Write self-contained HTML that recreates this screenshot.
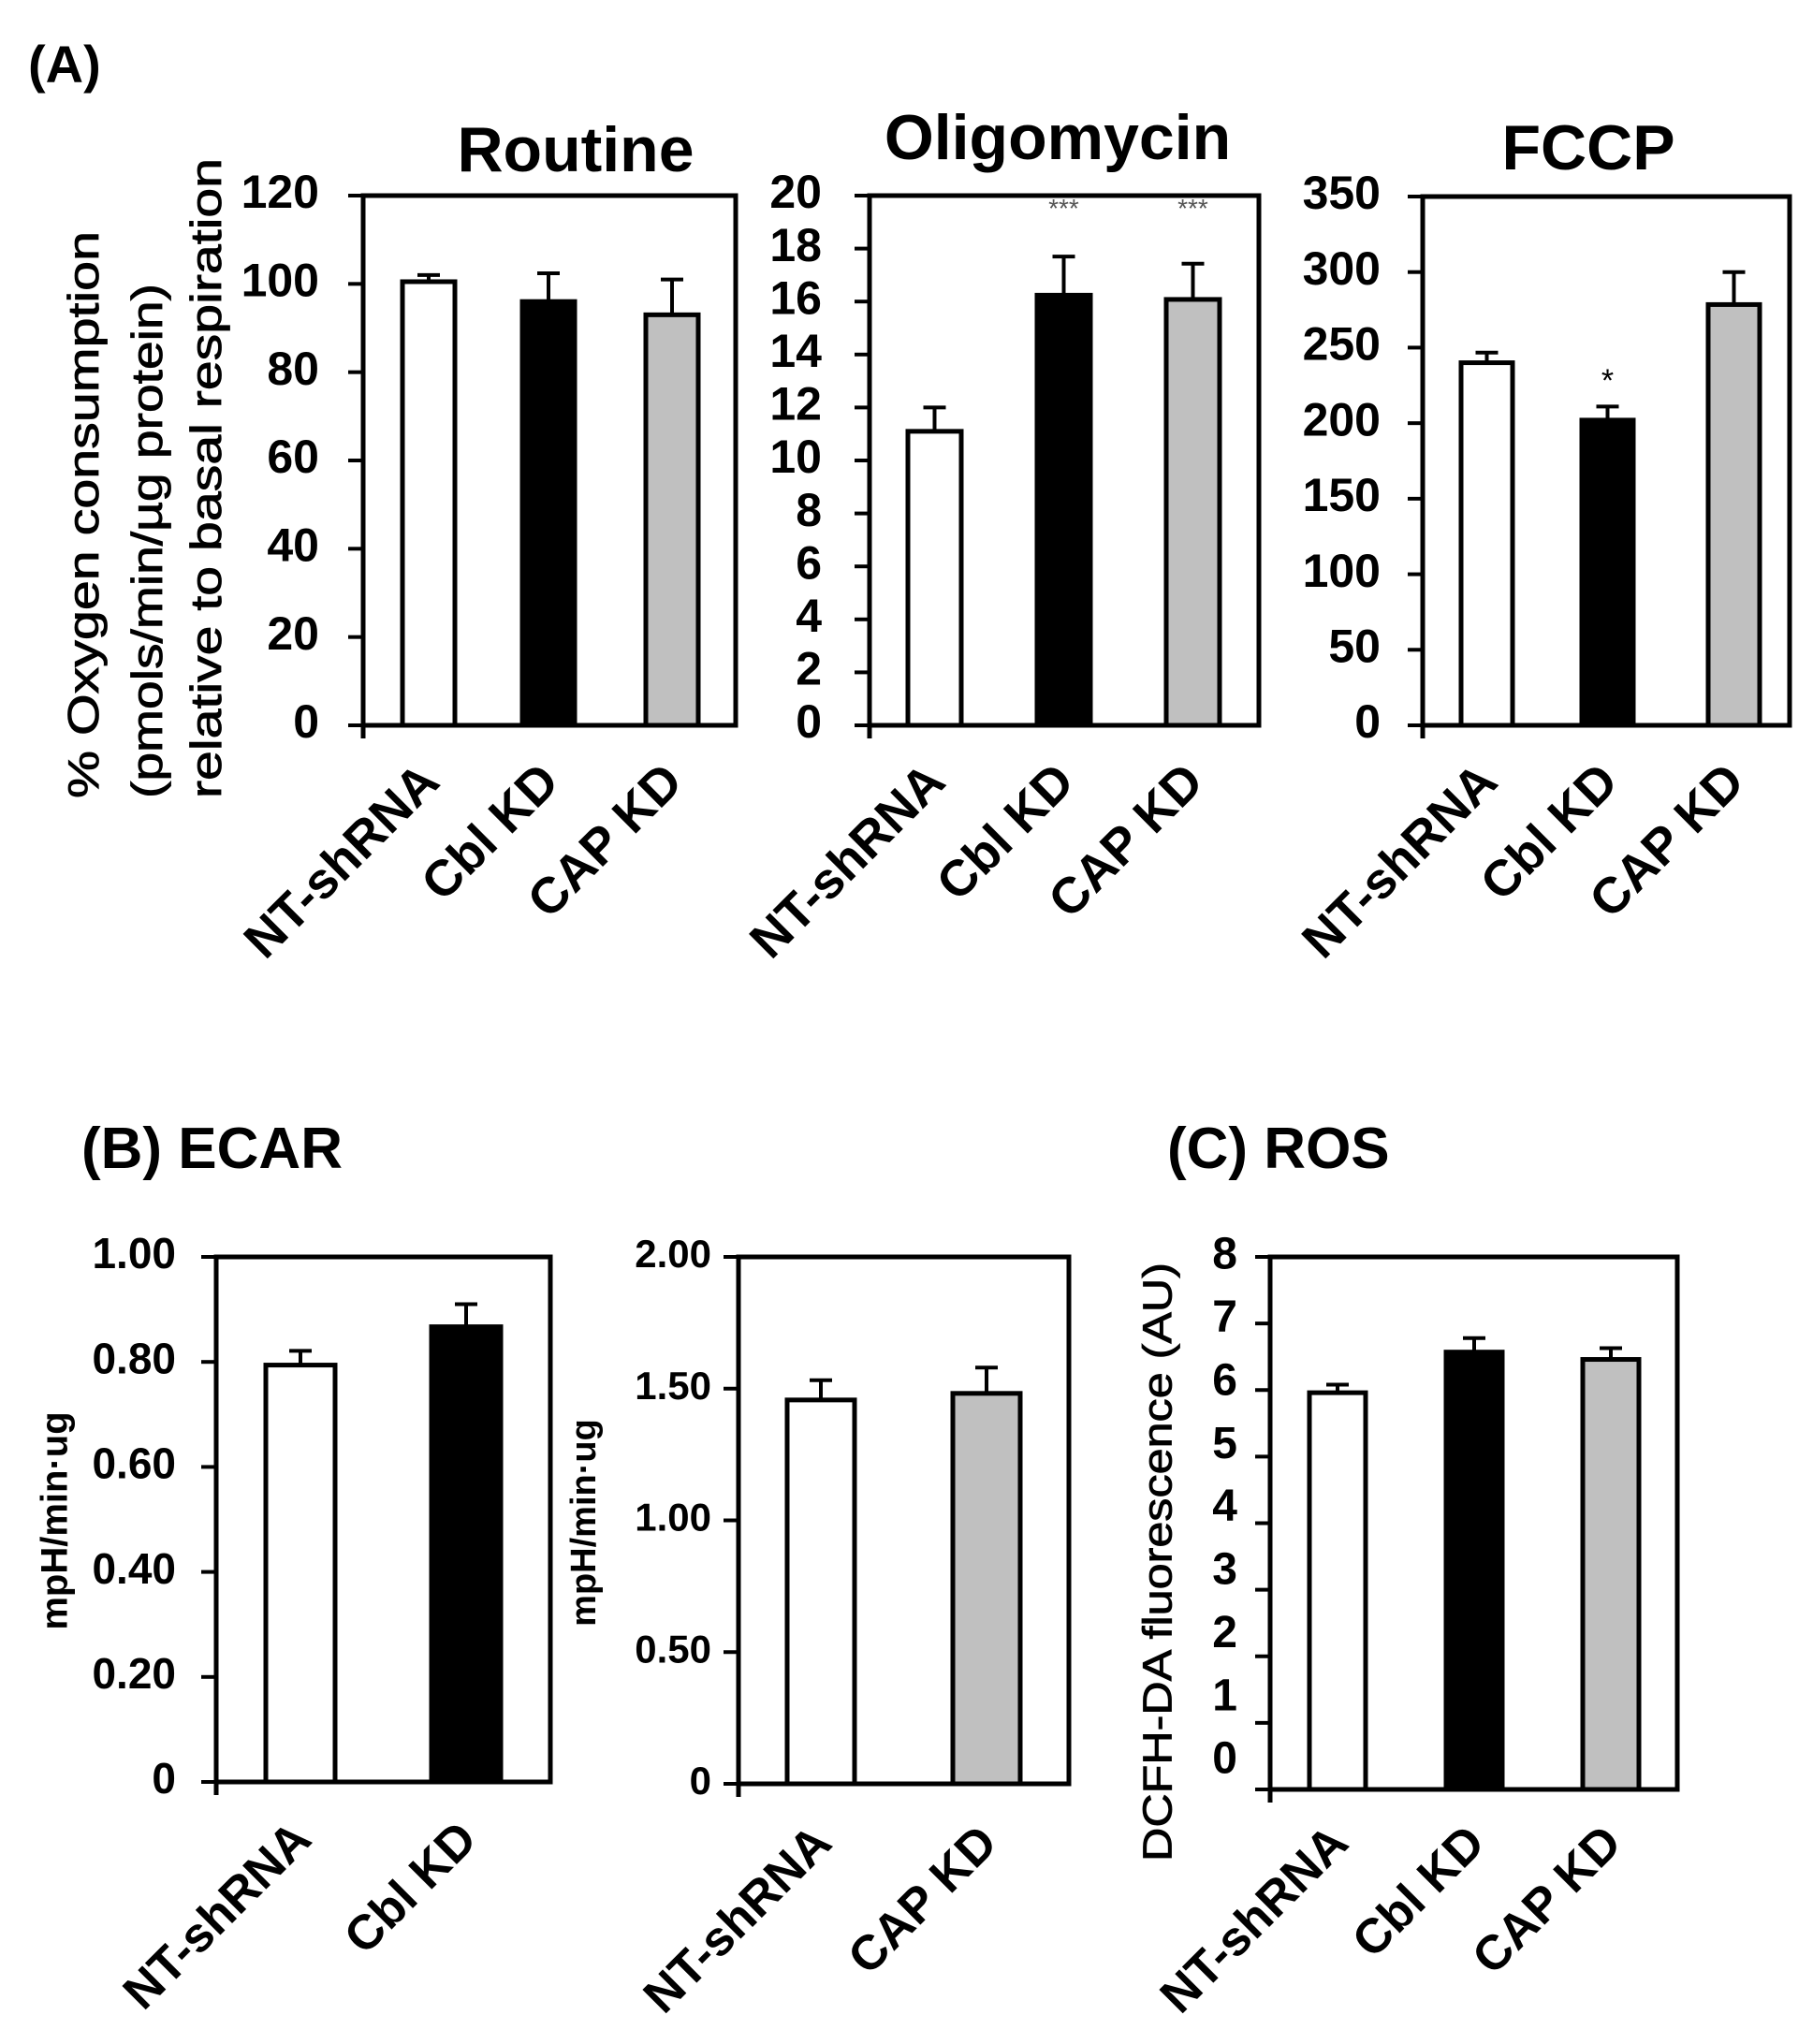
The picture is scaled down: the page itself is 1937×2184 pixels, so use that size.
<!DOCTYPE html>
<html><head><meta charset="utf-8"><style>
html,body{margin:0;padding:0;background:#fff}
svg{display:block}
text{font-family:"Liberation Sans",Arial,sans-serif}
</style></head><body>
<svg id="fig" width="1937" height="2184" viewBox="0 0 1937 2184" xmlns="http://www.w3.org/2000/svg">
<text x="30" y="88" font-size="56" font-weight="bold">(A)</text>
<text x="87" y="1248" font-size="62" font-weight="bold">(B) ECAR</text>
<text x="1247" y="1248" font-size="62" font-weight="bold">(C) ROS</text>
<g font-size="46" stroke="#000" stroke-width="0.8">
<text transform="translate(93,853) rotate(-90)" textLength="606" lengthAdjust="spacingAndGlyphs" dominant-baseline="middle">% Oxygen consumption</text>
<text transform="translate(161,853) rotate(-90)" textLength="550" lengthAdjust="spacingAndGlyphs" dominant-baseline="middle">(pmols/min/µg protein)</text>
<text transform="translate(224,853) rotate(-90)" textLength="684" lengthAdjust="spacingAndGlyphs" dominant-baseline="middle">relative to basal respiration</text>
</g>
<text transform="translate(61,1625) rotate(-90)" text-anchor="middle" dominant-baseline="middle" font-size="40" font-weight="bold">mpH/min·ug</text>
<text transform="translate(626,1627) rotate(-90)" text-anchor="middle" dominant-baseline="middle" font-size="38" font-weight="bold">mpH/min·ug</text>
<text transform="translate(1240,1669) rotate(-90)" text-anchor="middle" dominant-baseline="middle" font-size="44" stroke="#000" stroke-width="0.8" textLength="640" lengthAdjust="spacingAndGlyphs">DCFH-DA fluorescence (AU)</text>
</svg>
<script>
// Routine
const routineCats = ["NT-shRNA","Cbl KD","CAP KD"];
const routineVals = [100.5, 96, 93];
const routineErr = [102, 102.4, 101];
const routineTicks = [0,20,40,60,80,100,120];
// Oligomycin
const oligoCats = ["NT-shRNA","Cbl KD","CAP KD"];
const oligoVals = [11.1, 16.24, 16.08];
const oligoErr = [12.0, 17.7, 17.43];
const oligoTicks = [0,2,4,6,8,10,12,14,16,18,20];
const oligoSig = ["","***","***"];
// FCCP
const fccpCats = ["NT-shRNA","Cbl KD","CAP KD"];
const fccpVals = [240, 202, 278.5];
const fccpErr = [246.7, 211, 300];
const fccpTicks = [0,50,100,150,200,250,300,350];
const fccpSig = ["","*",""];
// ECAR 1
const ecar1Cats = ["NT-shRNA","Cbl KD"];
const ecar1Vals = [0.794, 0.867];
const ecar1Err = [0.821, 0.910];
const ecar1Ticks = [0,0.2,0.4,0.6,0.8,1.0];
const ecar1TickLabels = ["0","0.20","0.40","0.60","0.80","1.00"];
// ECAR 2
const ecar2Cats = ["NT-shRNA","CAP KD"];
const ecar2Vals = [1.457, 1.482];
const ecar2Err = [1.532, 1.580];
const ecar2Ticks = [0,0.5,1.0,1.5,2.0];
const ecar2TickLabels = ["0","0.50","1.00","1.50","2.00"];
// ROS
const rosCats = ["NT-shRNA","Cbl KD","CAP KD"];
const rosVals = [5.96, 6.57, 6.46];
const rosErr = [6.08, 6.78, 6.63];
const rosTicks = [0,1,2,3,4,5,6,7,8];

const NS="http://www.w3.org/2000/svg";
const svg=document.getElementById('fig');
function mk(tag,attrs,parent){const e=document.createElementNS(NS,tag);for(const k in attrs)e.setAttribute(k,attrs[k]);(parent||svg).appendChild(e);return e;}

function panel(o){
  const g=mk('g',{});
  
  
  const max=o.ticks[o.ticks.length-1];
  const y=v=>o.bottom-(v/max)*(o.bottom-o.top);
  const box=mk('rect',{x:o.left,y:o.top,width:o.right-o.left,height:o.bottom-o.top,fill:'none',stroke:'#000','stroke-width':5},g);
  
  
  mk('line',{x1:o.left,y1:o.top-2,x2:o.left,y2:o.bottom+14,stroke:'#000','stroke-width':5},g);
  o.ticks.forEach((t,i)=>{
    const ty=y(t);
    const tk=mk('line',{x1:o.left-16,y1:ty,x2:o.left,y2:ty,stroke:'#000','stroke-width':4},g);
    
    
    let ly=ty;
    if(o.labelShrink){ ly=o.top+(max-t)/max*(o.bottom-o.top-o.labelShrink); }
    const lb=mk('text',{x:o.labelX,y:ly,'text-anchor':'end','dominant-baseline':'middle','font-size':o.tickFont||50,'font-weight':'bold'},g);
    lb.textContent=o.tickLabels?o.tickLabels[i]:String(t);
    
    
  });
  const fills=o.fills;
  o.vals.forEach((v,i)=>{
    const x0=o.barX[i], w=o.barW;
    const cx=x0+w/2;
    const ey=y(o.err[i]);
    const el=mk('line',{x1:cx,y1:ey,x2:cx,y2:y(v),stroke:'#000','stroke-width':4},g);
    
    
    const cap=mk('line',{x1:cx-12,y1:ey,x2:cx+12,y2:ey,stroke:'#000','stroke-width':4},g);
    
    
    const r=mk('rect',{x:x0,y:y(v),width:w,height:o.bottom-y(v),fill:fills[i],stroke:'#000','stroke-width':5},g);
    
    
    if(o.sig && o.sig[i]){
      const s=mk('text',{x:cx,y:o.sigY?o.sigY:ey-28,'text-anchor':'middle','font-size':o.sigFont||30,fill:o.sigColor||'#000'},g);
      s.textContent=o.sig[i];
      
      
    }
    const c=mk('text',{transform:`translate(${cx+14},${o.catY}) rotate(-45)`,'text-anchor':'end','font-size':o.catFont||54,'font-weight':'bold'},g);
    c.textContent=o.cats[i];
    
    
  });
  if(o.title){
    const t=mk('text',{x:o.titleX,y:o.titleY,'text-anchor':'middle','font-size':68,'font-weight':'bold'},g);
    t.textContent=o.title;
    
    
  }
}
panel({name:'routine-chart',title:'Routine',titleX:615,titleY:183,left:388,right:786,top:209,bottom:775,ticks:routineTicks,vals:routineVals,err:routineErr,cats:routineCats,barX:[430,558,690],barW:56,fills:['#fff','#000','#c0c0c0'],labelX:341,catY:838});
panel({name:'oligomycin-chart',title:'Oligomycin',titleX:1130,titleY:170,left:929,right:1345,top:209,bottom:775,ticks:oligoTicks,vals:oligoVals,err:oligoErr,cats:oligoCats,barX:[970,1108,1246],barW:57,fills:['#fff','#000','#c0c0c0'],labelX:878,catY:838,sig:oligoSig,sigY:232,sigFont:28,sigColor:'#555'});
panel({name:'fccp-chart',title:'FCCP',titleX:1697,titleY:181,left:1520,right:1912,top:210,bottom:775,ticks:fccpTicks,vals:fccpVals,err:fccpErr,cats:fccpCats,barX:[1561,1690,1825],barW:55,fills:['#fff','#000','#c0c0c0'],labelX:1475,catY:838,sig:fccpSig,sigY:418,sigFont:34});
panel({name:'ecar-cbl-chart',left:231,right:588,top:1343,bottom:1904,ticks:ecar1Ticks,tickLabels:ecar1TickLabels,vals:ecar1Vals,err:ecar1Err,cats:ecar1Cats,barX:[284,461],barW:74,fills:['#fff','#000'],labelX:188,catY:1968,catFont:52,tickFont:46});
panel({name:'ecar-cap-chart',left:789,right:1142,top:1343,bottom:1906,ticks:ecar2Ticks,tickLabels:ecar2TickLabels,vals:ecar2Vals,err:ecar2Err,cats:ecar2Cats,barX:[841,1018],barW:72,fills:['#fff','#c0c0c0'],labelX:760,catY:1972,catFont:52,tickFont:42});
panel({name:'ros-chart',left:1357,right:1792,top:1343,bottom:1912,ticks:rosTicks,vals:rosVals,err:rosErr,cats:rosCats,barX:[1399,1545,1691],barW:60,fills:['#fff','#000','#c0c0c0'],labelX:1322,labelShrink:30,catY:1972,catFont:52,tickFont:48});
</script>
</body></html>
